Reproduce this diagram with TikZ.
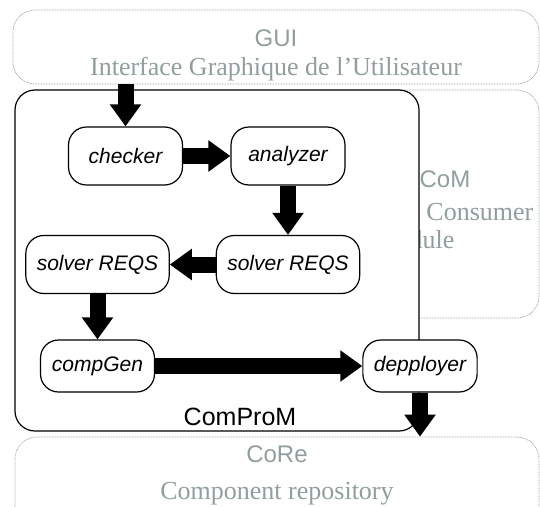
\documentclass[tikz,border=0pt]{standalone}
\usepackage{fontspec}
\setmainfont{Liberation Serif}
\setsansfont{Liberation Sans}
\definecolor{LayerGray}{RGB}{145,158,158}
\usetikzlibrary{arrows.meta, positioning}

\begin{document}
\begin{tikzpicture}[x=1pt, y=-1pt,
    layer/.style={draw=LayerGray, dash pattern=on 0.8pt off 0.8pt, line width=0.7pt, rounded corners=22pt},
    laytitle/.style={LayerGray, anchor=base, font=\fontsize{24}{28}\selectfont\sffamily},
    laytext/.style={LayerGray, anchor=base, font=\fontsize{26}{30}\selectfont\rmfamily},
    unit/.style={rectangle, rounded corners=18pt, draw, line width=1.2pt, fill=white,
                 minimum width=114pt, minimum height=58pt, inner xsep=11pt,
                 font=\fontsize{21}{25}\selectfont\sffamily\itshape},
    flow/.style={line width=16pt, -{Triangle[width=30pt, length=22pt]}}
  ]
    \clip (0,0) rectangle (540,506);
    % outer layers
    \node[layer, minimum width=526pt, minimum height=74pt] (gui) at (276,47) {};
    \node[layer, minimum width=240pt, minimum height=228pt] (com) at (419,204) {};
    \node[layer, minimum width=524pt, minimum height=100pt] (core) at (277,487) {};
    \node[laytitle] (guiA) at (276,46) {GUI};
    \node[laytext] (guiB) at (276,75) {Interface Graphique de l’Utilisateur};
    \node[laytitle] (comA) at (445,187) {CoM};
    \node[laytext] (comB) at (416,220) {Component Consumer};
    \node[laytext] (comC) at (414,248) {Module};
    \node[laytitle] (coreA) at (277,462) {CoRe};
    \node[laytext] (coreB) at (277,499) {Component repository};
    % ComProM
    \node[rectangle, rounded corners=20pt, draw, line width=1.2pt, fill=white,
          minimum width=404pt, minimum height=341pt] (comprom) at (217,260.5) {};
    \node[anchor=base, font=\fontsize{25}{29}\selectfont\sffamily] (compromA) at (240,425) {ComProM};
    \node[unit] (chk)  at (125.5,156) {checker};
    \node[unit] (ana)  at (288,156)   {analyzer};
    \node[unit] (solR) at (288,264.5) {solver REQS};
    \node[unit] (solL) at (97.5,264.5) {solver REQS};
    \node[unit, minimum height=52pt] (gen) at (97.5,366) {compGen};
    \node[unit, minimum height=52pt] (dep) at (420,366)  {depployer};
    \foreach \a/\b in {chk.east/ana.west, ana.south/solR.north, solR.west/solL.east,
                       solL.south/gen.north, gen.east/dep.west}
      \draw[flow] (\a) -- (\b);
    \draw[flow] (chk |- gui.south) -- (chk.north);
    \draw[flow] (dep.south) -- (dep |- core.north);
  \end{tikzpicture}
\end{document}
